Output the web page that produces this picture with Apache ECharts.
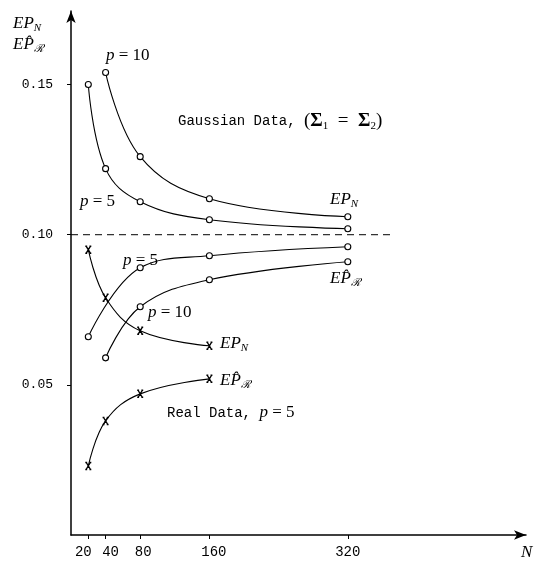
<!DOCTYPE html>
<html>
<head>
<meta charset="utf-8">
<script src="https://cdn.jsdelivr.net/npm/echarts@6/dist/echarts.min.js"></script>
<style>
html,body{margin:0;padding:0;background:#fff;}
#chart{width:534px;height:565px;}
</style>
</head>
<body>
<div id="chart"></div>
<script>
// ---- data ----
const xTicks = [20, 40, 80, 160, 320];
const yTicks = [0.05, 0.10, 0.15];

// Gaussian data, EP_N (upper group)
const gaussNp10X = [40, 80, 160, 320];
const gaussNp10Y = [0.154, 0.126, 0.112, 0.106];
const gaussNp5X = [20, 40, 80, 160, 320];
const gaussNp5Y = [0.150, 0.122, 0.111, 0.105, 0.102];

// Gaussian data, EP^_R (lower group)
const gaussRp5X = [20, 80, 160, 320];
const gaussRp5Y = [0.066, 0.089, 0.093, 0.096];
const gaussRp10X = [40, 80, 160, 320];
const gaussRp10Y = [0.059, 0.076, 0.085, 0.091];

// Real data, p = 5
const realNX = [20, 40, 80, 160];
const realNY = [0.095, 0.079, 0.068, 0.063];
const realRX = [20, 40, 80, 160];
const realRY = [0.023, 0.038, 0.047, 0.052];

// reference dashed line
const refX = [0, 372];
const refY = 0.10;

const zip = (xs, ys) => xs.map((x, i) => [x, ys[i]]);

const SERIF = "'Liberation Serif', 'DejaVu Serif', serif";
const MONO = "'Liberation Mono', 'DejaVu Sans Mono', monospace";

const circleSeries = (name, xs, ys) => ({
  name, type: 'line', data: zip(xs, ys), smooth: 0.4,
  symbol: 'circle', symbolSize: 6,
  itemStyle: { color: '#fff', borderColor: '#000', borderWidth: 1.1 },
  lineStyle: { color: '#000', width: 1.1 },
  z: 3
});
const XMARK = 'path://M0,0H2.5M5.5,0H8M0,10H2.5M5.5,10H8M1.2,0L6.8,10M6.8,0L1.2,10';
const crossSeries = (name, xs, ys) => ({
  name, type: 'line', data: zip(xs, ys), smooth: 0.4,
  symbol: XMARK, symbolSize: [6, 7],
  itemStyle: { color: 'rgba(0,0,0,0)', borderColor: '#000', borderWidth: 1.4 },
  lineStyle: { color: '#000', width: 1.1 },
  z: 3
});

const rich = {
  i: { fontFamily: SERIF, fontStyle: 'italic', fontSize: 17, lineHeight: 20, color: '#000' },
  sub: { fontFamily: SERIF, fontStyle: 'italic', fontSize: 11, lineHeight: 12, verticalAlign: 'bottom', color: '#000' },
  r: { fontFamily: SERIF, fontSize: 17, lineHeight: 20, color: '#000' },
  rl: { fontFamily: SERIF, fontSize: 19, lineHeight: 22, color: '#000' },
  m: { fontFamily: MONO, fontSize: 14, lineHeight: 20, color: '#000' },
  b: { fontFamily: SERIF, fontWeight: 'bold', fontSize: 19, lineHeight: 22, color: '#000' },
  nsub: { fontFamily: SERIF, fontSize: 11, lineHeight: 12, verticalAlign: 'bottom', color: '#000' }
};

const EPN = '{i|EP}{sub|N}';
const EPR = '{i|EP\u0302}{sub|\u211B}';

const txt = (text, x, y) => ({
  type: 'text', x, y, z: 10,
  style: { text, rich, align: 'left', verticalAlign: 'middle', fill: '#000' }
});

const xLabelRich = {
  a: { fontFamily: MONO, fontSize: 14, color: '#000', padding: [0, 10, 0, 0] },
  b: { fontFamily: MONO, fontSize: 14, color: '#000', padding: [0, 0, 0, 10] },
  c: { fontFamily: MONO, fontSize: 14, color: '#000', padding: [0, 0, 0, 6] },
  d: { fontFamily: MONO, fontSize: 14, color: '#000', padding: [0, 0, 0, 9] },
  e: { fontFamily: MONO, fontSize: 14, color: '#000' }
};
const xLabelStyle = { 20: 'a', 40: 'b', 80: 'c', 160: 'd', 320: 'e' };

const chart = echarts.init(document.getElementById('chart'), null, { renderer: 'canvas' });
chart.setOption({
  animation: false,
  backgroundColor: '#fff',
  grid: { left: 71, right: 8, top: 11, bottom: 30 },
  xAxis: {
    type: 'value', min: 0, max: 526,
    splitLine: { show: false },
    axisLine: { onZero: false, symbol: ['none', 'arrow'], symbolSize: [7, 12], lineStyle: { color: '#000', width: 1.5 } },
    axisTick: { customValues: xTicks, length: 4, lineStyle: { color: '#000', width: 1 } },
    axisLabel: { customValues: xTicks, color: '#000', margin: 10, rich: xLabelRich,
      formatter: v => '{' + (xLabelStyle[v] || 'e') + '|' + v + '}' }
  },
  yAxis: {
    type: 'value', min: 0, max: 0.1745,
    splitLine: { show: false },
    axisLine: { onZero: false, symbol: ['none', 'arrow'], symbolSize: [7, 12], lineStyle: { color: '#000', width: 1.5 } },
    axisTick: { customValues: yTicks, length: 4, lineStyle: { color: '#000', width: 1 } },
    axisLabel: { customValues: yTicks, fontFamily: MONO, fontSize: 13, color: '#000', margin: 18,
      formatter: v => v.toFixed(2) }
  },
  series: [
    {
      name: 'ref', type: 'line', data: refX.map(x => [x, refY]), symbol: 'none',
      lineStyle: { color: '#000', width: 1, type: [7, 5] }, z: 2
    },
    circleSeries('Gauss EPN p=10', gaussNp10X, gaussNp10Y),
    circleSeries('Gauss EPN p=5', gaussNp5X, gaussNp5Y),
    circleSeries('Gauss EPR p=5', gaussRp5X, gaussRp5Y),
    circleSeries('Gauss EPR p=10', gaussRp10X, gaussRp10Y),
    crossSeries('Real EPN', realNX, realNY),
    crossSeries('Real EPR', realRX, realRY)
  ],
  graphic: [
    txt(EPN, 13, 24),
    txt(EPR, 13, 45),
    txt('{i|p}{r| = 10}', 106, 56),
    txt('{m|Gaussian Data, }{rl|(}{b|\u03A3}{nsub|1}{rl|  =  }{b|\u03A3}{nsub|2}{rl|)}', 178, 121),
    txt('{i|p}{r| = 5}', 80, 202),
    txt(EPN, 330, 200),
    txt(EPR, 330, 279),
    txt('{i|p}{r| = 5}', 123, 261),
    txt('{i|p}{r| = 10}', 148, 313),
    txt(EPN, 220, 344),
    txt(EPR, 220, 381),
    txt('{m|Real Data, }{i|p}{r| = 5}', 167, 413),
    txt('{i|N}', 521, 553)
  ]
});
</script>
</body>
</html>
